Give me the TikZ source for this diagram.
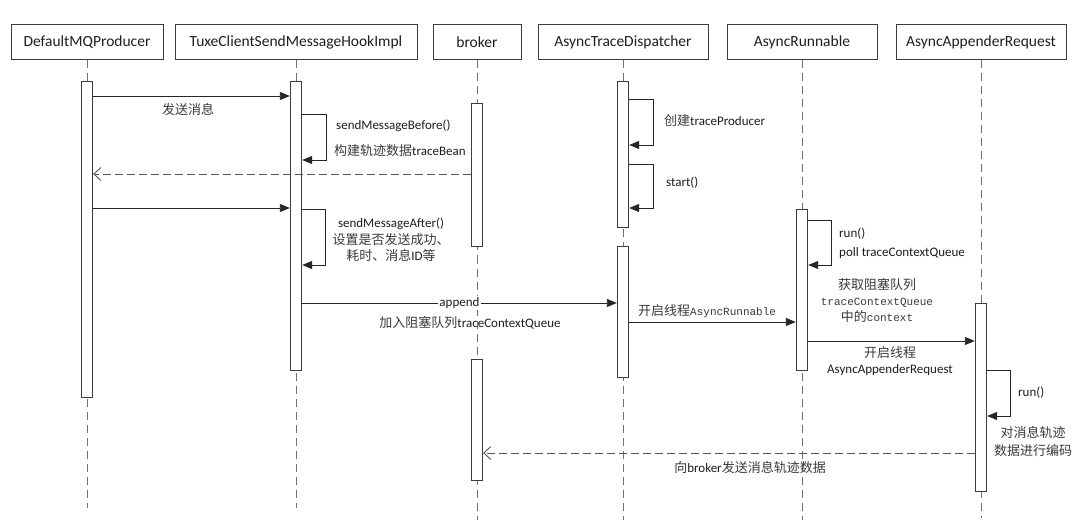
\documentclass[tikz,border=0pt]{standalone}
\usepackage{fontspec}
\setmainfont{Carlito}
\newfontfamily\cjk{Noto Sans CJK SC}
\newfontfamily\monof{Liberation Mono}
\usetikzlibrary{arrows.meta}
\definecolor{boxline}{HTML}{3C3C3C}
\definecolor{lifec}{HTML}{707070}
\definecolor{txt}{HTML}{1E1E1E}
\definecolor{cjkc}{HTML}{3A3A3A}
\definecolor{retc}{HTML}{555555}
\newcommand{\cj}[1]{{\cjk\color{cjkc}#1}}
\newcommand{\mo}[1]{{\monof\fontsize{11}{13}\selectfont\color{cjkc}#1}}
\begin{document}
\begin{tikzpicture}[x=1pt,y=-1pt,
  head/.style={draw=boxline,line width=1pt,minimum height=35pt,inner sep=0pt,text=txt,font=\fontsize{15.5}{18}\selectfont},
  life/.style={draw=lifec,line width=0.9pt,dash pattern=on 8pt off 5pt},
  bar/.style={draw=boxline,fill=white,line width=0.9pt,minimum width=11.5pt,inner sep=0pt,anchor=north},
  msg/.style={draw=black!85,line width=0.9pt,-{Triangle[length=10pt,width=8pt]}},
  ret/.style={draw=retc,line width=0.9pt,dash pattern=on 8pt off 4pt,-{Straight Barb[length=7pt,width=13pt]}},
  lbl/.style={inner sep=0pt,text=txt,font=\fontsize{13}{16.5}\selectfont},
]
\fill[white] (0,0) rectangle (1080,532);
\useasboundingbox (0,0) rectangle (1080,532);

% headers
\node[head,minimum width=152pt] (hP) at (87,42.5) {DefaultMQProducer};
\node[head,minimum width=242pt] (hT) at (296,42.5) {TuxeClientSendMessageHookImpl};
\node[head,minimum width=88pt] (hB) at (477,42.5) {broker};
\node[head,minimum width=170pt] (hD) at (623,42.5) {AsyncTraceDispatcher};
\node[head,minimum width=150pt] (hR) at (802,42.5) {AsyncRunnable};
\node[head,minimum width=170pt] (hA) at (981,42.5) {AsyncAppenderRequest};

% lifeline ends
\coordinate (eP) at (87,508);
\coordinate (eT) at (296,508);
\coordinate (eB) at (477,520);
\coordinate (eD) at (623,520);
\coordinate (eR) at (802,520);
\coordinate (eA) at (981,518);
\draw[life] (hP.south) -- (eP);
\draw[life] (hT.south) -- (eT);
\draw[life] (hB.south) -- (eB);
\draw[life] (hD.south) -- (eD);
\draw[life] (hR.south) -- (eR);
\draw[life] (hA.south) -- (eA);

% activation bars
\node[bar,minimum height=316pt] (P1) at (87,81) {};
\node[bar,minimum height=289pt] (T1) at (296,81) {};
\node[bar,minimum height=143pt] (B1) at (477,103) {};
\node[bar,minimum height=121pt] (B2) at (477,359) {};
\node[bar,minimum height=146pt] (D1) at (623,81) {};
\node[bar,minimum height=131pt] (D2) at (623,246) {};
\node[bar,minimum height=161pt] (R1) at (802,209) {};
\node[bar,minimum height=188pt] (A1) at (981,303) {};

% message rows
\coordinate (m1) at (0,96);
\coordinate (m2) at (0,174);
\coordinate (m3) at (0,208);
\coordinate (m4) at (0,303);
\coordinate (m5) at (0,322);
\coordinate (m6) at (0,341);
\coordinate (m7) at (0,453);

\draw[msg] (P1.east |- m1) -- (T1.west |- m1);
\node[lbl] (l1) at (188,110) {\cj{发送消息}};

% self call 1 on T
\coordinate (s1a) at (326,114);
\coordinate (s1b) at (326,160);
\draw[msg] (T1.east |- s1a) -- (s1a) -- (s1b) -- (T1.east |- s1b);
\node[lbl,anchor=west] (l2) at (336,126) {sendMessageBefore()};
\node[lbl,anchor=west] (l3) at (334,151) {\cj{构建轨迹数据}traceBean};

\draw[ret] (B1.west |- m2) -- (P1.east |- m2);

\draw[msg] (P1.east |- m3) -- (T1.west |- m3);

% self call 2 on T
\coordinate (s2a) at (325,209);
\coordinate (s2b) at (325,265);
\draw[msg] (T1.east |- s2a) -- (s2a) -- (s2b) -- (T1.east |- s2b);
\node[lbl,align=center] (l4) at (391,240) {sendMessageAfter()\\\cj{设置是否发送成功、}\\\cj{耗时、消息}ID\cj{等}};

% dispatcher self calls
\coordinate (s3a) at (653,99);
\coordinate (s3b) at (653,145);
\draw[msg] (D1.east |- s3a) -- (s3a) -- (s3b) -- (D1.east |- s3b);
\node[lbl,anchor=west] (l5) at (664,121) {\cj{创建}traceProducer};
\coordinate (s4a) at (653,164);
\coordinate (s4b) at (653,208);
\draw[msg] (D1.east |- s4a) -- (s4a) -- (s4b) -- (D1.east |- s4b);
\node[lbl,anchor=west] (l6) at (666,183) {start()};

% runnable self call
\coordinate (s5a) at (831,220);
\coordinate (s5b) at (831,265);
\draw[msg] (R1.east |- s5a) -- (s5a) -- (s5b) -- (R1.east |- s5b);
\node[lbl,anchor=west] (l7) at (839,234) {run()};
\node[lbl,anchor=west] (l8) at (839,253) {poll traceContextQueue};
\node[lbl,align=center,font=\fontsize{13}{16}\selectfont] (l9) at (877,301) {\cj{获取阻塞队列}\\\mo{traceContextQueue}\\\cj{中的}\mo{context}};

% append
\draw[msg] (T1.east |- m4) -- node[lbl,fill=white,inner sep=1pt] (ap) {append} (D2.west |- m4);
\node[lbl] (l10) at (470,323) {\cj{加入阻塞队列}traceContextQueue};

% dispatcher -> runnable
\draw[msg] (D2.east |- m5) -- (R1.west |- m5);
\node[lbl,anchor=west] (l11) at (638,311) {\cj{开启线程}\mo{AsyncRunnable}};

% runnable -> appender
\draw[msg] (R1.east |- m6) -- (A1.west |- m6);
\node[lbl,align=center] (l12) at (890,361) {\cj{开启线程}\\AsyncAppenderRequest};

% appender self call
\coordinate (s6a) at (1010,370);
\coordinate (s6b) at (1010,416);
\draw[msg] (A1.east |- s6a) -- (s6a) -- (s6b) -- (A1.east |- s6b);
\node[lbl,anchor=west] (l13) at (1018,393) {run()};
\node[lbl,align=center,font=\fontsize{13}{18}\selectfont] (l14) at (1033,442) {\cj{对消息轨迹}\\\cj{数据进行编码}};

% return to broker
\draw[ret] (A1.west |- m7) -- (B2.east |- m7);
\node[lbl] (l15) at (750,468) {\cj{向}broker\cj{发送消息轨迹数据}};
\end{tikzpicture}
\end{document}
